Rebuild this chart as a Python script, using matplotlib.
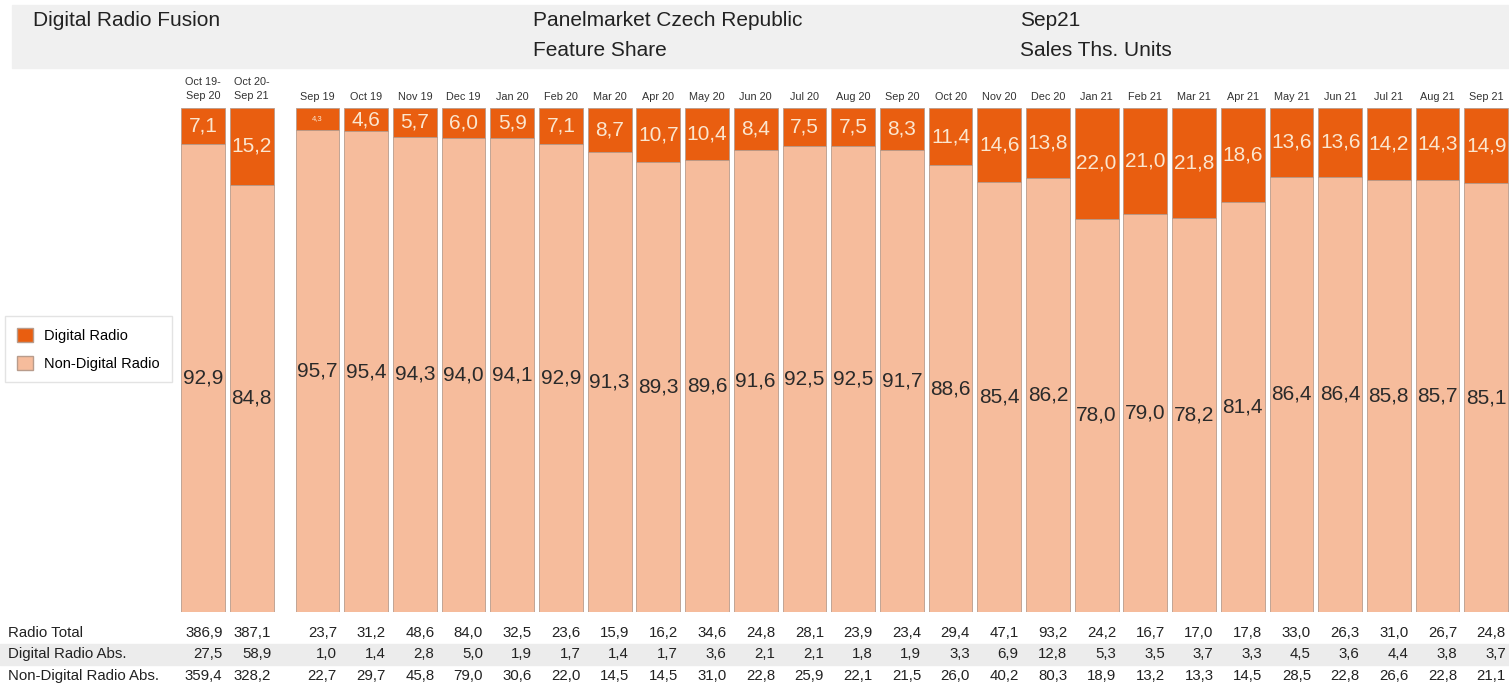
import numpy as np
import matplotlib
matplotlib.use("Agg")
import matplotlib.pyplot as plt
from matplotlib.patches import Rectangle, Patch
from matplotlib.transforms import blended_transform_factory

plt.rcParams['font.family'] = ['Liberation Sans', 'DejaVu Sans']

periods = ["Oct 19-\nSep 20", "Oct 20-\nSep 21",
           "Sep 19", "Oct 19", "Nov 19", "Dec 19", "Jan 20", "Feb 20", "Mar 20", "Apr 20",
           "May 20", "Jun 20", "Jul 20", "Aug 20", "Sep 20", "Oct 20", "Nov 20", "Dec 20",
           "Jan 21", "Feb 21", "Mar 21", "Apr 21", "May 21", "Jun 21", "Jul 21", "Aug 21", "Sep 21"]
digital_share = [7.1, 15.2, 4.3, 4.6, 5.7, 6.0, 5.9, 7.1, 8.7, 10.7, 10.4, 8.4, 7.5, 7.5,
                 8.3, 11.4, 14.6, 13.8, 22.0, 21.0, 21.8, 18.6, 13.6, 13.6, 14.2, 14.3, 14.9]
non_digital_share = [92.9, 84.8, 95.7, 95.4, 94.3, 94.0, 94.1, 92.9, 91.3, 89.3, 89.6, 91.6,
                     92.5, 92.5, 91.7, 88.6, 85.4, 86.2, 78.0, 79.0, 78.2, 81.4, 86.4, 86.4,
                     85.8, 85.7, 85.1]
radio_total = [386.9, 387.1, 23.7, 31.2, 48.6, 84.0, 32.5, 23.6, 15.9, 16.2, 34.6, 24.8, 28.1,
               23.9, 23.4, 29.4, 47.1, 93.2, 24.2, 16.7, 17.0, 17.8, 33.0, 26.3, 31.0, 26.7, 24.8]
digital_abs = [27.5, 58.9, 1.0, 1.4, 2.8, 5.0, 1.9, 1.7, 1.4, 1.7, 3.6, 2.1, 2.1, 1.8, 1.9,
               3.3, 6.9, 12.8, 5.3, 3.5, 3.7, 3.3, 4.5, 3.6, 4.4, 3.8, 3.7]
non_digital_abs = [359.4, 328.2, 22.7, 29.7, 45.8, 79.0, 30.6, 22.0, 14.5, 14.5, 31.0, 22.8,
                   25.9, 22.1, 21.5, 26.0, 40.2, 80.3, 18.9, 13.2, 13.3, 14.5, 28.5, 22.8,
                   26.6, 22.8, 21.1]
row_labels = ["Radio Total", "Digital Radio Abs.", "Non-Digital Radio Abs."]

DARK = '#E95E10'
LIGHT = '#F6BC9C'
W, H = 1509, 686

fig = plt.figure(figsize=(W / 100, H / 100), dpi=100)

# header band
fig.patches.append(Rectangle((12 / W, 1 - 68 / H), 1 - 12 / W, 63 / H,
                             transform=fig.transFigure, color='#f0f0f0', zorder=-1))
hdr = dict(fontsize=15, color='#222222', va='center', ha='left')
fig.text(33 / W, 1 - 20 / H, "Digital Radio Fusion", **hdr)
fig.text(533 / W, 1 - 20 / H, "Panelmarket Czech Republic", **hdr)
fig.text(533 / W, 1 - 50 / H, "Feature Share", **hdr)
fig.text(1020 / W, 1 - 20 / H, "Sep21", **hdr)
fig.text(1020 / W, 1 - 50 / H, "Sales Ths. Units", **hdr)

# bars
ax = fig.add_axes([0, 1 - 612 / H, 1, (612 - 108) / H])
pos = np.array([0, 1] + [2.35 + i for i in range(len(periods) - 2)])
ax.bar(pos, non_digital_share, width=0.9, color=LIGHT, edgecolor='#b89c8c', linewidth=0.6)
ax.bar(pos, digital_share, width=0.9, bottom=non_digital_share, color=DARK,
       edgecolor='#b89c8c', linewidth=0.6)
ax.set_xlim(-203 / 48.7, (W - 203) / 48.7)
ax.set_ylim(0, 100)
ax.axis('off')

for x, d, n in zip(pos, digital_share, non_digital_share):
    ax.text(x, n / 2, f"{n:.1f}".replace('.', ','), ha='center', va='center',
            fontsize=15, color='#2a2a2a')
    fs = 5.5 if d < 4.5 else 15
    ax.text(x, n + d / 2, f"{d:.1f}".replace('.', ','), ha='center', va='center',
            fontsize=fs, color='#FBE6CF')

# period labels and table
tr = blended_transform_factory(ax.transData, fig.transFigure)
for x, lab in zip(pos, periods):
    ax.text(x, 1 - 97 / H if '\n' not in lab else 1 - 89 / H, lab, transform=tr,
            ha='center', va='center', fontsize=7.8, color='#333333', linespacing=1.55)

fig.patches.append(Rectangle((0, 1 - 665 / H), 1, 21 / H, transform=fig.transFigure,
                             color='#ececec', zorder=-1))
rows_y = [633, 654, 676]
for lab, vals, yy in zip(row_labels, [radio_total, digital_abs, non_digital_abs], rows_y):
    fig.text(8 / W, 1 - yy / H, lab, fontsize=10.8, va='center', ha='left', color='#222222')
    for x, v in zip(pos, vals):
        ax.text(x + 0.4, 1 - yy / H, f"{v:.1f}".replace('.', ','), transform=tr,
                ha='right', va='center', fontsize=10.8, color='#222222')

# legend
handles = [Patch(facecolor=DARK, edgecolor='#b89c8c'), Patch(facecolor=LIGHT, edgecolor='#b89c8c')]
fig.legend(handles, ["Digital Radio", "Non-Digital Radio"], loc='upper left',
           bbox_to_anchor=(5 / W, 1 - 316 / H), fontsize=10.5, frameon=True, fancybox=False,
           edgecolor='#dddddd', handlelength=1.1, handleheight=1.1, borderpad=0.8,
           labelspacing=0.9, borderaxespad=0)

fig.savefig("out.png", dpi=100)
